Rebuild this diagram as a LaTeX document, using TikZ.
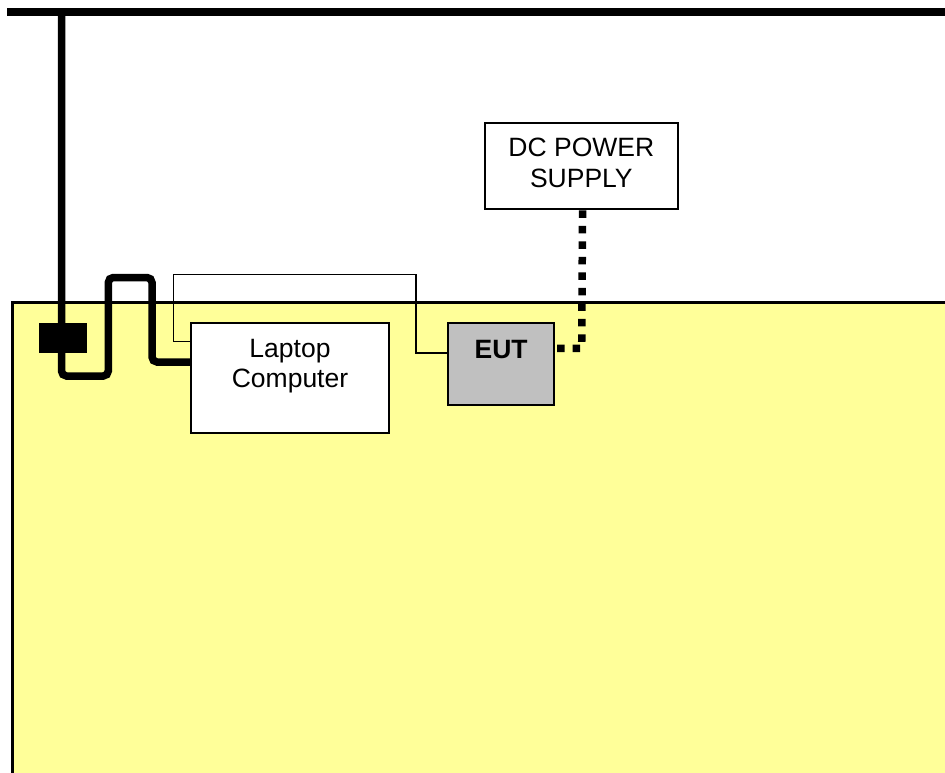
\documentclass[tikz,border=0pt]{standalone}
\usepackage{fontspec}
\setmainfont{Liberation Sans}
\definecolor{tableyellow}{HTML}{FFFF99}
\definecolor{eutgray}{HTML}{C0C0C0}

\begin{document}
\begin{tikzpicture}
  [x=1pt,y=-1pt,
   box/.style={draw,line width=2pt,fill=white,anchor=north west,inner sep=0pt},
   lbl/.style={anchor=north,align=center,inner sep=0pt,font=\fontsize{26.5}{30.5}\selectfont},
   cable/.style={line width=7.5pt,rounded corners=5pt},
   wire/.style={line width=1.6pt},
   dcline/.style={line width=7.5pt,dash pattern=on 7.5pt off 8pt}]
  \useasboundingbox (0,0) rectangle (945,773);
  \clip (0,0) rectangle (945,773);

  % table and ground plane
  \draw[fill=tableyellow,line width=2.2pt] (12.5,302.5) rectangle (970,800);
  \draw[line width=8pt] (7,12) -- (960,12);

  \node[box,minimum width=198pt,minimum height=109.5pt] (laptop) at (190,322) {};
  \node[box,fill=eutgray,minimum width=106.3pt,minimum height=82.3pt] (eut) at (447,322) {};
  \node[box,minimum width=193.3pt,minimum height=86pt] (dc) at (483.7,122.4) {};

  \node[lbl] (laptoptext) at ([yshift=-17pt]laptop.north) {Laptop\\Computer};
  \node[lbl,font=\fontsize{26.5}{30.5}\selectfont\bfseries] (euttext) at ([yshift=-17.7pt]eut.north) {EUT};
  \node[lbl] (dctext) at ([yshift=-15.7pt]dc.north) {DC POWER\\SUPPLY};

  % cables
  \coordinate (tap) at (61.5,12);
  \draw[wire] ([yshift=-19.5pt]laptop.north west) -- (173.3,341.5) -- (173.3,274.3)
    -- (415.7,274.3) -- (415.7,353) -- ([yshift=-31pt]eut.north west);
  \draw[cable] (tap) -- (61.5,376) -- (108.3,376) -- (108.3,277.5) -- (152,277.5)
    -- (152,362) -- ([yshift=-40pt]laptop.north west);
  \node[fill=black,inner sep=0pt,minimum width=47.4pt,minimum height=30pt] (block) at (63,338.3) {};
  \draw[dcline] ([xshift=1.2pt]dc.south) -- (581.7,348.3) -- ([yshift=-26.3pt]eut.north east);
\end{tikzpicture}
\end{document}
